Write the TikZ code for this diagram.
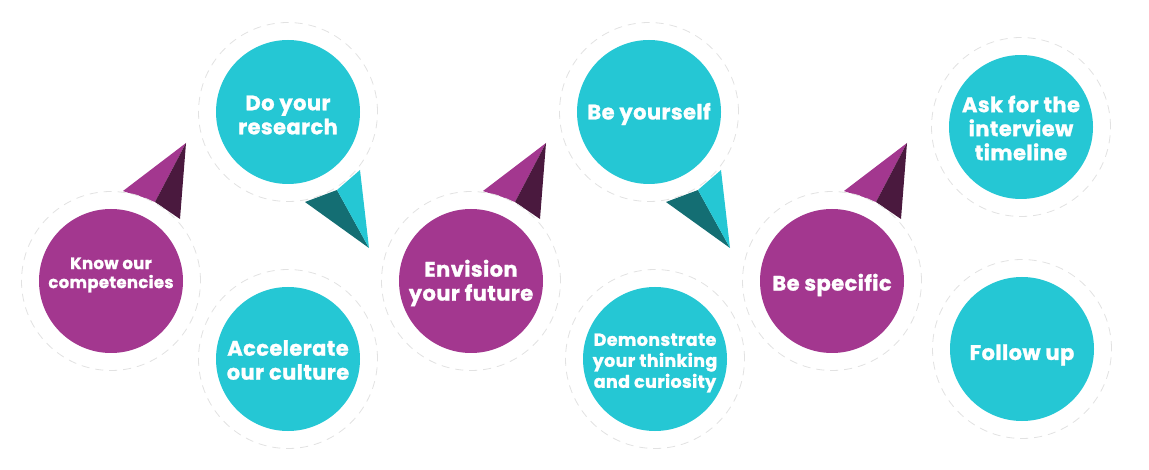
\documentclass[tikz,border=0pt]{standalone}
\usepackage{fontspec}
\setmainfont{Poppins}[BoldFeatures={FakeBold=1.2,LetterSpace=2}]
\definecolor{cpurple}{HTML}{A3378F}
\definecolor{cdpurple}{HTML}{4A193E}
\definecolor{cteal}{HTML}{25C7D4}
\definecolor{cdteal}{HTML}{146E73}
\definecolor{cring}{HTML}{E2E2E2}
\tikzset{
  ring/.style={circle, fill=white, draw=cring, line width=0.8pt, dash pattern=on 8pt off 6pt, minimum size=179pt, inner sep=0pt},
  disc/.style={circle, minimum size=144pt, inner sep=0pt},
  pdisc/.style={disc, fill=cpurple},
  tdisc/.style={disc, fill=cteal},
  lbl/.style={text=white, align=center, inner sep=0pt, font=\bfseries\fontsize{21}{24}\selectfont},
}
\begin{document}
\begin{tikzpicture}[x=1pt,y=-1pt]
\useasboundingbox (0,0) rectangle (1149,470);
% pointers
\foreach \dx in {0,360,721}{
  \fill[cpurple] (186+\dx,143) -- (123+\dx,191) -- (155+\dx,202) -- cycle;
  \fill[cdpurple] (186+\dx,143) -- (155+\dx,202) -- (180+\dx,219) -- cycle;
}
\foreach \dx in {0,361}{
  \fill[cdteal] (369+\dx,248) -- (305+\dx,202) -- (337+\dx,190) -- cycle;
  \fill[cteal] (369+\dx,248) -- (337+\dx,190) -- (360+\dx,170) -- cycle;
}
% rings
\foreach \n/\p in {rk/{111,281},rr/{288,112},ra/{288,359},re/{471,281},ry/{649,112},rd/{655,359},rs/{832,281},rt/{1021,127},rf/{1022,349}}{
  \node[ring] (\n) at (\p) {};
}
% discs
\node[pdisc] (know) at (111,281) {};
\node[tdisc] (research) at (288,112) {};
\node[tdisc] (accel) at (288,359) {};
\node[pdisc] (envision) at (471,281) {};
\node[tdisc] (yourself) at (649,112) {};
\node[tdisc] (demo) at (655,359) {};
\node[pdisc] (specific) at (832,281) {};
\node[tdisc] (ask) at (1021,127) {};
\node[tdisc] (follow) at (1022,349) {};
% labels
\node[lbl, font=\bfseries\fontsize{16.5}{19}\selectfont] (tknow) at ([yshift=6pt]know.center) {Know our\\competencies};
\node[lbl] (tresearch) at ([yshift=-3pt]research.center) {Do your\\research};
\node[lbl] (taccel) at ([yshift=-1pt]accel.center) {Accelerate\\our culture};
\node[lbl] (tenvision) at ([yshift=-2pt]envision.center) {Envision\\your future};
\node[lbl] (tyourself) at ([yshift=-2pt]yourself.center) {Be yourself};
\node[lbl, font=\bfseries\fontsize{17.5}{21}\selectfont] (tdemo) at ([yshift=-4pt]demo.center) {Demonstrate\\your thinking\\and curiosity};
\node[lbl] (tspecific) at ([yshift=-4pt]specific.center) {Be specific};
\node[lbl] (task) at ([yshift=-1pt]ask.center) {Ask for the\\interview\\timeline};
\node[lbl] (tfollow) at ([yshift=-6pt]follow.center) {Follow up};
\end{tikzpicture}
\end{document}
